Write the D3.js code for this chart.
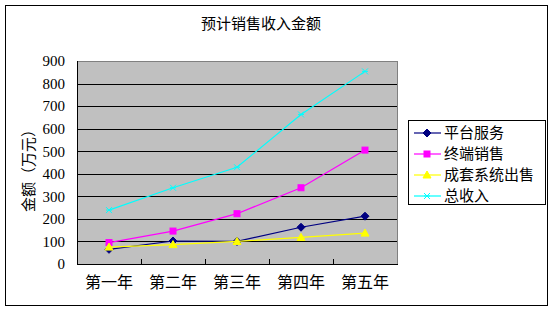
<!DOCTYPE html>
<html>
<head>
<meta charset="utf-8">
<script src="https://cdn.jsdelivr.net/npm/d3@7"></script>
<style>
    body { margin: 0; background: #fff; }
    text { font-family: 'Noto Sans CJK SC', sans-serif; fill: #000; }
    .num { font-family: 'Liberation Serif', serif; }
</style>
</head>
<body>
<div class="line-chart"></div>
<script>
// ------------------------------------------------------
const chartWidth = 554;
const chartHeight = 312;
const categories = [ '第一年', '第二年', '第三年', '第四年', '第五年' ];
const seriesNames = [ '平台服务', '终端销售', '成套系统出售', '总收入' ];
const platformValues = [ 65, 102, 100, 163, 212 ];
const terminalValues = [ 95, 146, 223, 338, 505 ];
const systemValues = [ 75, 86, 100, 118, 137 ];
const totalValues = [ 239, 338, 429, 663, 854 ];
const yTicks = [ 0, 100, 200, 300, 400, 500, 600, 700, 800, 900 ];
const seriesColors = [ '#000080', '#ff00ff', '#ffff00', '#00ffff' ];
const seriesMarkers = [ 'diamond', 'square', 'triangle', 'cross' ];
// ------------------------------------------------------
const plotLeft = 77;
const plotRight = 397;
const plotTop = 61;
const plotBottom = 264;
// ------------------------------------------------------
function drawMarker( g, type, color ) {
    if ( type === 'diamond' ) {
        g.append( 'path' ).attr( 'd', 'M0,-4L4,0L0,4L-4,0Z' ).attr( 'fill', color ).attr( 'stroke', color );
    } else if ( type === 'square' ) {
        g.append( 'rect' ).attr( 'x', -3 ).attr( 'y', -3 ).attr( 'width', 6 ).attr( 'height', 6 )
            .attr( 'fill', color ).attr( 'stroke', color );
    } else if ( type === 'triangle' ) {
        g.append( 'path' ).attr( 'd', 'M0,-4L4,3L-4,3Z' ).attr( 'fill', color ).attr( 'stroke', color );
    } else {
        g.append( 'path' ).attr( 'd', 'M-3,-3L3,3M-3,3L3,-3M-3,0L3,0' )
            .attr( 'fill', 'none' ).attr( 'stroke', color ).attr( 'stroke-width', 1 );
    }
}
// ------------------------------------------------------
window.addEventListener( 'load', function () {
    // --------------------------------------------------
    let svg = d3.select( '.line-chart' )
        .append( 'svg' )
        .attr( 'width', chartWidth )
        .attr( 'height', chartHeight );
    // --------------------------------------------------
    svg.append( 'rect' )
        .attr( 'x', 5.5 ).attr( 'y', 5.5 )
        .attr( 'width', 542 ).attr( 'height', 300 )
        .attr( 'fill', '#fff' ).attr( 'stroke', '#000' );
    // --------------------------------------------------
    svg.append( 'text' )
        .attr( 'x', 261 ).attr( 'y', 29 )
        .attr( 'text-anchor', 'middle' )
        .attr( 'font-size', '15px' )
        .text( '预计销售收入金额' );
    // --------------------------------------------------
    let x = d3.scaleBand()
        .domain( categories )
        .range( [ plotLeft, plotRight ] );
    let y = d3.scaleLinear()
        .domain( [ 0, 900 ] )
        .range( [ plotBottom, plotTop ] );
    // --------------------------------------------------
    svg.append( 'rect' )
        .attr( 'x', plotLeft ).attr( 'y', plotTop )
        .attr( 'width', plotRight - plotLeft ).attr( 'height', plotBottom - plotTop )
        .attr( 'fill', '#c0c0c0' );
    // --------------------------------------------------
    svg.append( 'g' )
        .attr( 'transform', 'translate(' + plotLeft + ',0)' )
        .call( d3.axisLeft( y ).tickValues( yTicks ).tickSize( -( plotRight - plotLeft ) ).tickPadding( 12 ) )
        .call( function ( g ) {
            g.select( '.domain' ).remove();
            g.selectAll( '.tick line' ).attr( 'stroke', '#000' ).attr( 'shape-rendering', 'crispEdges' );
            g.selectAll( '.tick text' ).attr( 'class', 'num' ).attr( 'font-size', '15px' ).attr( 'fill', '#000' );
        });
    // --------------------------------------------------
    svg.append( 'path' )
        .attr( 'd', 'M' + plotLeft + ',' + plotTop + 'H' + plotRight + 'V' + plotBottom )
        .attr( 'fill', 'none' ).attr( 'stroke', '#808080' ).attr( 'shape-rendering', 'crispEdges' );
    // --------------------------------------------------
    let xAxis = svg.append( 'g' )
        .attr( 'transform', 'translate(0,' + plotBottom + ')' )
        .call( d3.axisBottom( x ).tickSize( 0 ).tickPadding( 13 ) );
    xAxis.select( '.domain' ).attr( 'stroke', '#000' ).attr( 'shape-rendering', 'crispEdges' );
    xAxis.selectAll( '.tick text' ).attr( 'font-size', '16px' ).attr( 'font-family', "'Noto Sans CJK SC', sans-serif" ).attr( 'fill', '#000' );
    xAxis.selectAll( '.cat-tick' )
        .data( categories.slice( 1 ) )
        .enter()
        .append( 'line' )
        .attr( 'x1', function ( d ) { return x( d ); } )
        .attr( 'x2', function ( d ) { return x( d ); } )
        .attr( 'y1', 0 ).attr( 'y2', -5 )
        .attr( 'stroke', '#000' ).attr( 'shape-rendering', 'crispEdges' );
    svg.append( 'line' )
        .attr( 'x1', plotLeft ).attr( 'x2', plotLeft )
        .attr( 'y1', plotTop ).attr( 'y2', plotBottom )
        .attr( 'stroke', '#000' ).attr( 'shape-rendering', 'crispEdges' );
    // --------------------------------------------------
    svg.append( 'text' )
        .attr( 'transform', 'translate(34,167) rotate(-90)' )
        .attr( 'text-anchor', 'middle' )
        .attr( 'font-size', '15px' )
        .text( '金额（万元）' );
    // --------------------------------------------------
    const seriesValues = [ platformValues, terminalValues, systemValues, totalValues ];
    let line = d3.line()
        .x( function ( d, i ) { return x( categories[i] ) + x.bandwidth() / 2; } )
        .y( function ( d ) { return y( d ); } );
    // --------------------------------------------------
    seriesValues.forEach( function ( values, s ) {
        svg.append( 'path' )
            .attr( 'd', line( values ) )
            .attr( 'fill', 'none' )
            .attr( 'stroke', seriesColors[s] )
            .attr( 'stroke-width', 1.2 );
        values.forEach( function ( v, i ) {
            let g = svg.append( 'g' )
                .attr( 'transform', 'translate(' + ( x( categories[i] ) + x.bandwidth() / 2 ) + ',' + y( v ) + ')' );
            drawMarker( g, seriesMarkers[s], seriesColors[s] );
        });
    });
    // --------------------------------------------------
    let legend = svg.append( 'g' );
    legend.append( 'rect' )
        .attr( 'x', 408.5 ).attr( 'y', 120.5 )
        .attr( 'width', 137 ).attr( 'height', 84 )
        .attr( 'fill', '#fff' ).attr( 'stroke', '#000' );
    seriesNames.forEach( function ( name, s ) {
        let rowY = 133 + s * 21;
        legend.append( 'line' )
            .attr( 'x1', 414 ).attr( 'x2', 441 )
            .attr( 'y1', rowY ).attr( 'y2', rowY )
            .attr( 'stroke', seriesColors[s] ).attr( 'stroke-width', 1.2 );
        let g = legend.append( 'g' ).attr( 'transform', 'translate(427,' + rowY + ')' );
        drawMarker( g, seriesMarkers[s], seriesColors[s] );
        legend.append( 'text' )
            .attr( 'x', 444 ).attr( 'y', rowY )
            .attr( 'dy', '.35em' )
            .attr( 'font-size', '15px' )
            .text( name );
    });
}, false );
</script>
</body>
</html>
